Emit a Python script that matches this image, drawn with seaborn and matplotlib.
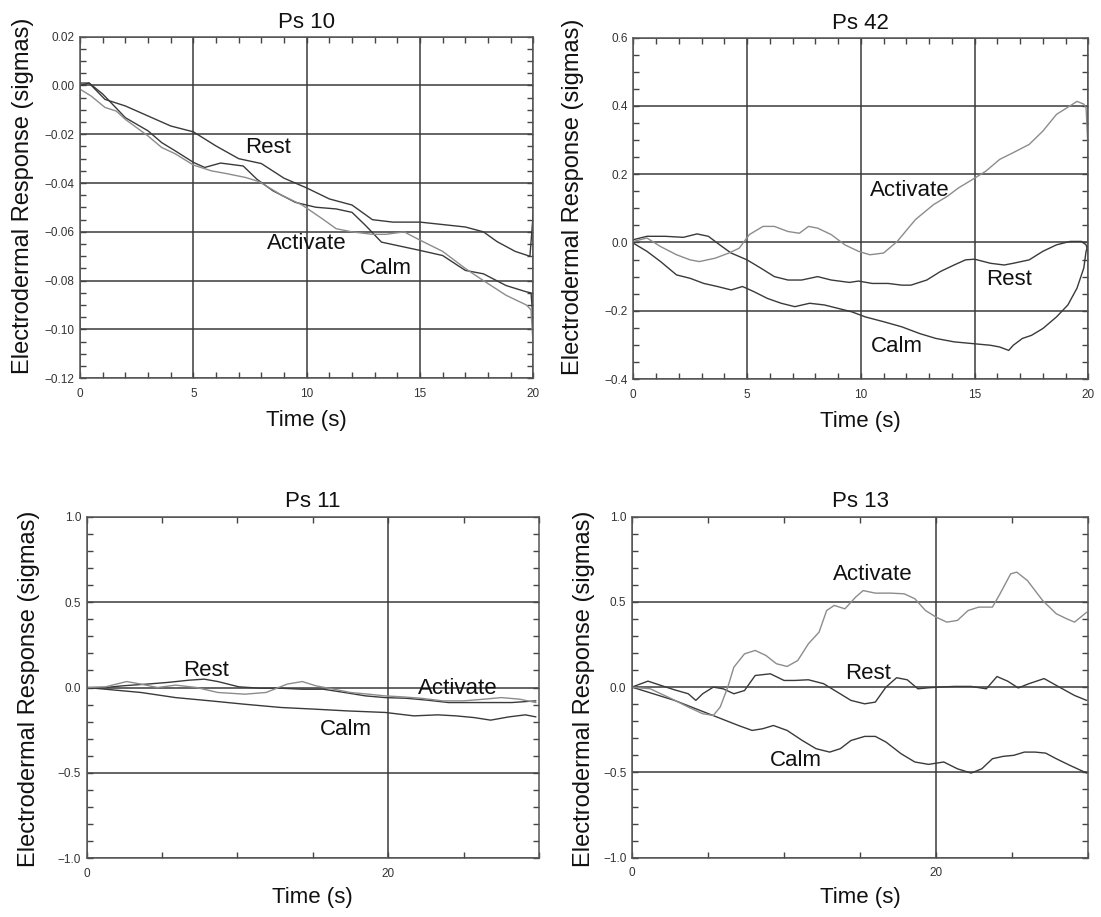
import pandas as pd
import seaborn as sns
import matplotlib.pyplot as plt
from matplotlib.ticker import MultipleLocator, FuncFormatter

# ---- Ps 10 ----
ps10_rest_t = [0, 0.4, 1.1, 2, 3, 4, 5, 6, 7, 8, 9, 10, 11, 12, 12.9, 13.8, 15, 16, 17, 17.8, 18.4, 19.2, 19.85, 20]
ps10_rest_v = [0.000, 0.001, -0.0057, -0.0084, -0.0125, -0.0166, -0.019, -0.0248, -0.030, -0.032, -0.038, -0.042,
               -0.0465, -0.049, -0.055, -0.056, -0.056, -0.057, -0.058, -0.060, -0.064, -0.068, -0.070, -0.052]
ps10_calm_t = [0, 0.4, 1, 2, 3, 3.6, 4.2, 5, 5.5, 6.2, 7.2, 7.8, 8.5, 9.5, 10.4, 11.3, 12, 12.6, 13.3, 14.3, 15, 16,
               17, 17.8, 18.8, 19.7, 19.9, 20]
ps10_calm_v = [0.001, 0.001, -0.0035, -0.0132, -0.0186, -0.0234, -0.0268, -0.0315, -0.0336, -0.0318, -0.033, -0.0384,
               -0.0431, -0.0479, -0.0499, -0.0506, -0.052, -0.0574, -0.0642, -0.0662, -0.0676, -0.0697, -0.0758,
               -0.0772, -0.082, -0.0846, -0.085, -0.098]
ps10_act_t = [0, 0.5, 1.1, 1.6, 2, 3, 3.6, 4.2, 5, 5.8, 6.4, 7.3, 7.9, 8.9, 9.8, 10.7, 11.3, 12, 12.9, 13.5, 14.3, 15,
              16, 17, 17.8, 18.8, 19.7, 19.9, 20]
ps10_act_v = [-0.0015, -0.0044, -0.009, -0.0105, -0.0139, -0.0207, -0.0254, -0.028, -0.0326, -0.035, -0.036, -0.0377,
              -0.0394, -0.045, -0.049, -0.0547, -0.0587, -0.060, -0.061, -0.061, -0.060, -0.0634, -0.068, -0.075,
              -0.080, -0.086, -0.090, -0.092, -0.108]

# ---- Ps 42 ----
ps42_act_t = [0, 0.6, 1.2, 1.9, 2.5, 2.9, 3.6, 4.2, 4.65, 5.1, 5.7, 6.2, 6.8, 7.3, 7.7, 8.1, 8.7, 9.3, 9.9, 10.4, 11,
              11.6, 12.4, 13.2, 13.8, 14.3, 14.9, 15.5, 16.1, 16.7, 17.4, 18, 18.6, 19.2, 19.5, 19.8, 19.9, 20]
ps42_act_v = [0.003, 0.013, -0.012, -0.036, -0.051, -0.056, -0.046, -0.031, -0.017, 0.023, 0.047, 0.047, 0.032, 0.027,
              0.047, 0.042, 0.023, -0.007, -0.026, -0.036, -0.031, 0.003, 0.067, 0.111, 0.135, 0.160, 0.184, 0.209,
              0.243, 0.263, 0.287, 0.326, 0.375, 0.400, 0.413, 0.405, 0.395, 0.258]
ps42_rest_t = [0, 0.6, 1.4, 2.2, 2.8, 3.3, 3.9, 4.3, 5, 5.6, 6.2, 6.8, 7.4, 8.1, 8.7, 9.5, 9.9, 10.5, 11.2, 11.8, 12.2,
               12.9, 13.5, 14.1, 14.6, 15, 15.7, 16.3, 16.7, 17.4, 18, 18.6, 19.2, 19.7, 19.9, 20]
ps42_rest_v = [0.008, 0.018, 0.018, 0.015, 0.025, 0.018, -0.012, -0.031, -0.051, -0.075, -0.100, -0.110, -0.110,
               -0.100, -0.110, -0.117, -0.113, -0.120, -0.120, -0.125, -0.125, -0.110, -0.085, -0.066, -0.051, -0.049,
               -0.061, -0.066, -0.061, -0.051, -0.026, -0.007, 0.003, 0.003, -0.007, -0.030]
ps42_calm_t = [0, 0.6, 1.2, 1.9, 2.5, 3.1, 3.7, 4.3, 4.8, 5.3, 5.9, 6.5, 7.1, 7.75, 8.4, 9, 9.6, 10.2, 11, 11.8, 12.6,
               13.3, 14.1, 14.9, 15.7, 16.1, 16.5, 16.7, 17.1, 17.5, 18, 18.6, 19.1, 19.5, 19.8, 19.9, 20]
ps42_calm_v = [-0.002, -0.026, -0.056, -0.095, -0.105, -0.120, -0.129, -0.139, -0.129, -0.144, -0.164, -0.178, -0.188,
               -0.178, -0.183, -0.193, -0.203, -0.218, -0.232, -0.247, -0.267, -0.281, -0.291, -0.296, -0.301, -0.306,
               -0.316, -0.301, -0.281, -0.272, -0.252, -0.218, -0.183, -0.134, -0.075, -0.026, -0.007]

# ---- Ps 11 ----
ps11_act_t = [0, 1.25, 2.65, 3.6, 4.7, 5.9, 7.3, 8.7, 10.5, 11.9, 13.3, 14.3, 15.2, 16.4, 17.5, 18.7, 19.8, 21, 22.2,
              23.6, 25, 26.4, 27.5, 28.7, 29.8]
ps11_act_v = [0.0, 0.004, 0.035, 0.02, 0.0, 0.014, 0.0, -0.029, -0.039, -0.029, 0.02, 0.035, 0.01, -0.01, -0.029,
              -0.039, -0.049, -0.055, -0.063, -0.078, -0.078, -0.068, -0.059, -0.068, -0.088]
ps11_rest_t = [0, 1.25, 2.4, 4, 5.4, 6.8, 7.8, 8.7, 10.1, 11.5, 12.9, 14.3, 15.7, 17.1, 18.5, 19.8, 21.2, 22.6, 24,
               25.4, 26.8, 28.2, 29.8]
ps11_rest_v = [0.0, 0.0, 0.01, 0.02, 0.03, 0.043, 0.049, 0.035, 0.004, -0.004, -0.004, -0.01, -0.01, -0.029, -0.049,
               -0.059, -0.063, -0.074, -0.088, -0.088, -0.088, -0.088, -0.078]
ps11_calm_t = [0, 1.25, 3.6, 5.9, 8.2, 10.5, 12.9, 15.2, 17.3, 19.8, 21.7, 23.3, 24.5, 25.7, 26.8, 28, 29.1, 29.8]
ps11_calm_v = [0.0, -0.01, -0.029, -0.059, -0.078, -0.098, -0.117, -0.127, -0.137, -0.146, -0.166, -0.16, -0.166,
               -0.176, -0.191, -0.172, -0.16, -0.172]

# ---- Ps 13 ----
ps13_act_t = [0, 1.2, 2.6, 3.7, 4.65, 5.35, 5.8, 6.3, 6.7, 7.4, 8.1, 8.8, 9.5, 10.2, 10.9, 11.6, 12.3, 12.8, 13.3, 14,
              14.7, 15.2, 16, 17, 17.9, 18.6, 19.3, 20, 20.7, 21.4, 22.1, 22.8, 23.7, 24.2, 24.9, 25.3, 26, 27, 27.9,
              28.6, 29.1, 29.5, 29.9]
ps13_act_v = [0, -0.01, -0.068, -0.117, -0.156, -0.166, -0.117, 0.0, 0.117, 0.195, 0.215, 0.186, 0.137, 0.121, 0.156,
              0.254, 0.322, 0.449, 0.479, 0.459, 0.527, 0.566, 0.551, 0.551, 0.547, 0.518, 0.449, 0.41, 0.381, 0.391,
              0.449, 0.469, 0.469, 0.547, 0.664, 0.674, 0.625, 0.508, 0.43, 0.40, 0.381, 0.41, 0.439]
ps13_rest_t = [0, 1.05, 1.9, 2.8, 3.7, 4.2, 4.65, 5.35, 6, 6.7, 7.4, 8.1, 9.1, 10, 10.7, 11.6, 12.6, 13.5, 14.4, 15.3,
               16, 16.7, 17.4, 18.1, 18.8, 19.5, 20.2, 21.2, 22.3, 23.3, 24, 24.7, 25.4, 26.1, 27.1, 28.1, 29.1, 29.9]
ps13_rest_v = [0, 0.035, 0.01, -0.016, -0.039, -0.078, -0.039, 0.0, -0.01, -0.039, -0.02, 0.068, 0.078, 0.039, 0.039,
               0.043, 0.02, -0.029, -0.078, -0.098, -0.088, 0.0, 0.055, 0.043, -0.01, -0.004, 0.0, 0.004, 0.004,
               -0.01, 0.062, 0.035, -0.005, 0.02, 0.05, 0.0, -0.049, -0.078]
ps13_calm_t = [0, 1.4, 2.8, 4.2, 5.6, 7, 7.9, 8.6, 9.3, 10.2, 11.2, 12.1, 13, 13.7, 14.4, 15.3, 16, 16.7, 17.7, 18.6,
               19.5, 20.5, 21.4, 22.3, 23, 23.7, 24.4, 25.1, 25.8, 26.5, 27.2, 27.9, 28.8, 29.9]
ps13_calm_v = [0, -0.039, -0.078, -0.127, -0.176, -0.225, -0.254, -0.244, -0.225, -0.254, -0.313, -0.361, -0.381,
               -0.361, -0.313, -0.289, -0.289, -0.322, -0.391, -0.439, -0.453, -0.439, -0.479, -0.504, -0.479, -0.42,
               -0.406, -0.40, -0.381, -0.381, -0.387, -0.42, -0.459, -0.504]


def long_frame(series):
    rows = []
    for name, (t, v) in series.items():
        rows.append(pd.DataFrame({'time': t, 'value': v, 'condition': name}))
    return pd.concat(rows, ignore_index=True)


sns.set_theme(style='ticks')
plt.rcParams['font.family'] = ['Liberation Sans', 'DejaVu Sans']

DARK = '#3a3a3a'
LIGHT = '#8c8c8c'
palette = {'Rest': DARK, 'Calm': DARK, 'Activate': LIGHT}

panels = [
    dict(title='Ps 10', pos=[0.0727, 0.5875, 0.4117, 0.3725], xmax=20, xmaj=5, xmin=1,
         ylim=(-0.12, 0.02), ymaj=0.02, ymin=0.005, fmt='%.2f', tpad=6, xl=-0.094, yl=(-57, 0.534),
         series={'Rest': (ps10_rest_t, ps10_rest_v), 'Calm': (ps10_calm_t, ps10_calm_v),
                 'Activate': (ps10_act_t, ps10_act_v)},
         labels=[('Rest', 8.3, -0.0254), ('Activate', 10.0, -0.0649), ('Calm', 13.5, -0.075)]),
    dict(title='Ps 42', pos=[0.5752, 0.5866, 0.4133, 0.3725], xmax=20, xmaj=5, xmin=1,
         ylim=(-0.4, 0.6), ymaj=0.2, ymin=0.05, fmt='%.1f', tpad=6, xl=-0.094, yl=(-60, 0.534),
         series={'Rest': (ps42_rest_t, ps42_rest_v), 'Calm': (ps42_calm_t, ps42_calm_v),
                 'Activate': (ps42_act_t, ps42_act_v)},
         labels=[('Activate', 12.17, 0.152), ('Rest', 16.5, -0.108), ('Calm', 11.6, -0.306)]),
    dict(title='Ps 11', pos=[0.0787, 0.0640, 0.4108, 0.3725], xmax=30, xmaj=20, xmin=5,
         ylim=(-1.0, 1.0), ymaj=0.5, ymin=0.1, fmt='%.1f', tpad=7, xl=-0.085, yl=(-58, 0.495),
         series={'Rest': (ps11_rest_t, ps11_rest_v), 'Calm': (ps11_calm_t, ps11_calm_v),
                 'Activate': (ps11_act_t, ps11_act_v)},
         labels=[('Rest', 7.95, 0.10), ('Activate', 24.6, -0.004), ('Calm', 17.2, -0.244)]),
    dict(title='Ps 13', pos=[0.5740, 0.0647, 0.4144, 0.3720], xmax=30, xmaj=20, xmin=5,
         ylim=(-1.0, 1.0), ymaj=0.5, ymin=0.1, fmt='%.1f', tpad=7, xl=-0.085, yl=(-48, 0.495),
         series={'Rest': (ps13_rest_t, ps13_rest_v), 'Calm': (ps13_calm_t, ps13_calm_v),
                 'Activate': (ps13_act_t, ps13_act_v)},
         labels=[('Activate', 15.8, 0.66), ('Rest', 15.5, 0.078), ('Calm', 10.8, -0.43)]),
]

fig = plt.figure(figsize=(11.01, 9.17), dpi=100)

for p in panels:
    ax = fig.add_axes(p['pos'])
    df = long_frame(p['series'])
    sns.lineplot(data=df, x='time', y='value', hue='condition', palette=palette,
                 estimator=None, legend=False, linewidth=1.0, ax=ax)

    ax.set_xlim(0, p['xmax'])
    ax.set_ylim(*p['ylim'])
    ax.xaxis.set_major_locator(MultipleLocator(p['xmaj']))
    ax.xaxis.set_minor_locator(MultipleLocator(p['xmin']))
    ax.yaxis.set_major_locator(MultipleLocator(p['ymaj']))
    ax.yaxis.set_minor_locator(MultipleLocator(p['ymin']))
    ax.xaxis.set_major_formatter(FuncFormatter(lambda v, pos: '%d' % round(v)))
    fmt = p['fmt']
    ax.yaxis.set_major_formatter(FuncFormatter(
        lambda v, pos, fmt=fmt: (fmt % (0.0 if abs(v) < 1e-9 else v)).replace('-', '\u2212')))

    ax.grid(True, which='major', color=DARK, linewidth=1.1)
    ax.tick_params(which='both', direction='in', top=True, right=True, length=4, width=1,
                   color='#444444', labelsize=8.5, labelcolor='#333333')
    ax.tick_params(axis='x', pad=7)
    ax.tick_params(axis='y', pad=4)
    for s in ax.spines.values():
        s.set_color('#555555')
        s.set_linewidth(1.1)

    ax.set_title(p['title'], fontsize=16, pad=p['tpad'], color='#111111')
    ax.set_xlabel('Time (s)', fontsize=16, color='#111111')
    ax.xaxis.set_label_coords(0.5, p['xl'])
    ax.set_ylabel('Electrodermal Response (sigmas)', fontsize=17, color='#111111', va='center')
    dx, yc = p['yl']
    w_px = p['pos'][2] * 1101
    ax.yaxis.set_label_coords(dx / w_px, yc)

    for name, tx, ty in p['labels']:
        ax.text(tx, ty, name, ha='center', va='center', fontsize=16, color='#111111')

fig.savefig('out.png', dpi=100)
